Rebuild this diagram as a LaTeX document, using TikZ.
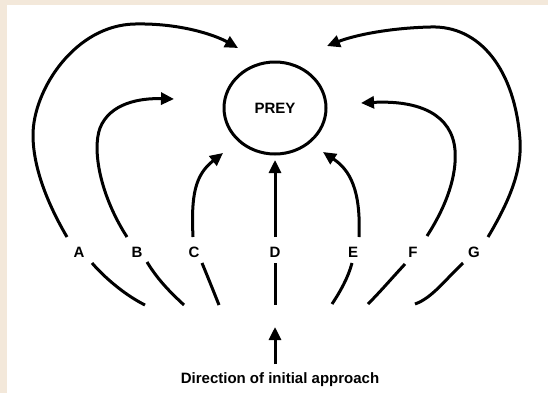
\documentclass[tikz,border=0pt]{standalone}
\usepackage{fontspec}
\setmainfont{Liberation Sans}
\usepackage{tikz}
\usetikzlibrary{positioning, arrows.meta, shapes.geometric}
\definecolor{paper}{RGB}{243,232,218}

\begin{document}
\begin{tikzpicture}[x=1bp, y=-1bp,
	track/.style={line width=3bp},
	run/.style={track, -{Triangle[length=13bp, width=12bp]}},
	lbl/.style={font=\fontsize{15bp}{17bp}\selectfont\bfseries, inner sep=1bp}]
\useasboundingbox (0,0) rectangle (548,393);
\fill[paper] (0,0) rectangle (548,393);
\fill[white] (7,5) rectangle (548,393);
\node[ellipse, draw, line width=3bp, minimum width=102bp, minimum height=92bp,
	font=\fontsize{15bp}{17bp}\selectfont\bfseries] (prey) at (275,108) {PREY};
\foreach \x/\n in {79/A,137/B,194/C,275/D,353/E,413/F,474/G} {
	\node[lbl] (l\n) at (\x,252) {\n};
};
% tips of the arrows
\coordinate (tA) at (238,48);
\coordinate (tB) at (174,99);
\coordinate (tC) at (223,153);
\coordinate (tD) at (275,160);
\coordinate (tE) at (323,152);
\coordinate (tF) at (361,103);
\coordinate (tG) at (327,46);
% ends above the labels
\coordinate (sA) at (67,237);
\coordinate (sB) at (127,237);
\coordinate (sC) at (193,237);
\coordinate (sD) at (275,237);
\coordinate (sE) at (359,237);
\coordinate (sF) at (427,236);
\coordinate (sG) at (488,237);
% ends below the labels
\coordinate (uA) at (92,263);
\coordinate (uB) at (147,262);
\coordinate (uC) at (202,263);
\coordinate (uD) at (275,263);
\coordinate (uE) at (352,263);
\coordinate (uF) at (405,264);
\coordinate (uG) at (463,263);
% bottom ends
\coordinate (bA) at (145,305);
\coordinate (bB) at (184,305);
\coordinate (bC) at (219,305);
\coordinate (bD) at (275,305);
\coordinate (bE) at (332,304);
\coordinate (bF) at (368,304);
\coordinate (bG) at (415,304);
\draw[run] (sA) .. controls (50,208) and (33,170) .. (33,135)
	.. controls (33,90) and (75,25) .. (135,24)
	.. controls (180,23) and (215,35) .. (tA);
\draw[run] (sB) .. controls (100,195) and (92,150) .. (100,128)
	.. controls (110,103) and (140,98) .. (tB);
\draw[run] (sC) .. controls (191,195) and (195,175) .. (tC);
\draw[run] (sD) -- (tD);
\draw[run] (sE) .. controls (361,190) and (350,170) .. (tE);
\draw[run] (sF) .. controls (447,205) and (457,175) .. (455,150)
	.. controls (452,115) and (420,100) .. (tF);
\draw[run] (sG) .. controls (510,200) and (522,170) .. (520,140)
	.. controls (515,70) and (480,25) .. (430,27)
	.. controls (390,28) and (355,35) .. (tG);
\draw[track] (uA) .. controls (105,278) and (125,295) .. (bA);
\draw[track] (uB) .. controls (158,280) and (170,292) .. (bB);
\draw[track] (uC) .. controls (207,275) and (213,290) .. (bC);
\draw[track] (uD) -- (bD);
\draw[track] (uE) .. controls (348,278) and (340,292) .. (bE);
\draw[track] (uF) .. controls (392,278) and (380,292) .. (bF);
\draw[track] (uG) .. controls (445,280) and (432,298) .. (bG);
\node[font=\fontsize{15bp}{17bp}\selectfont\bfseries] (dir) at (280,380) {Direction of initial approach};
\coordinate (tail) at (275,364);
\coordinate (head) at (275,327);
\draw[run] (tail) -- (head);
\end{tikzpicture}
\end{document}
